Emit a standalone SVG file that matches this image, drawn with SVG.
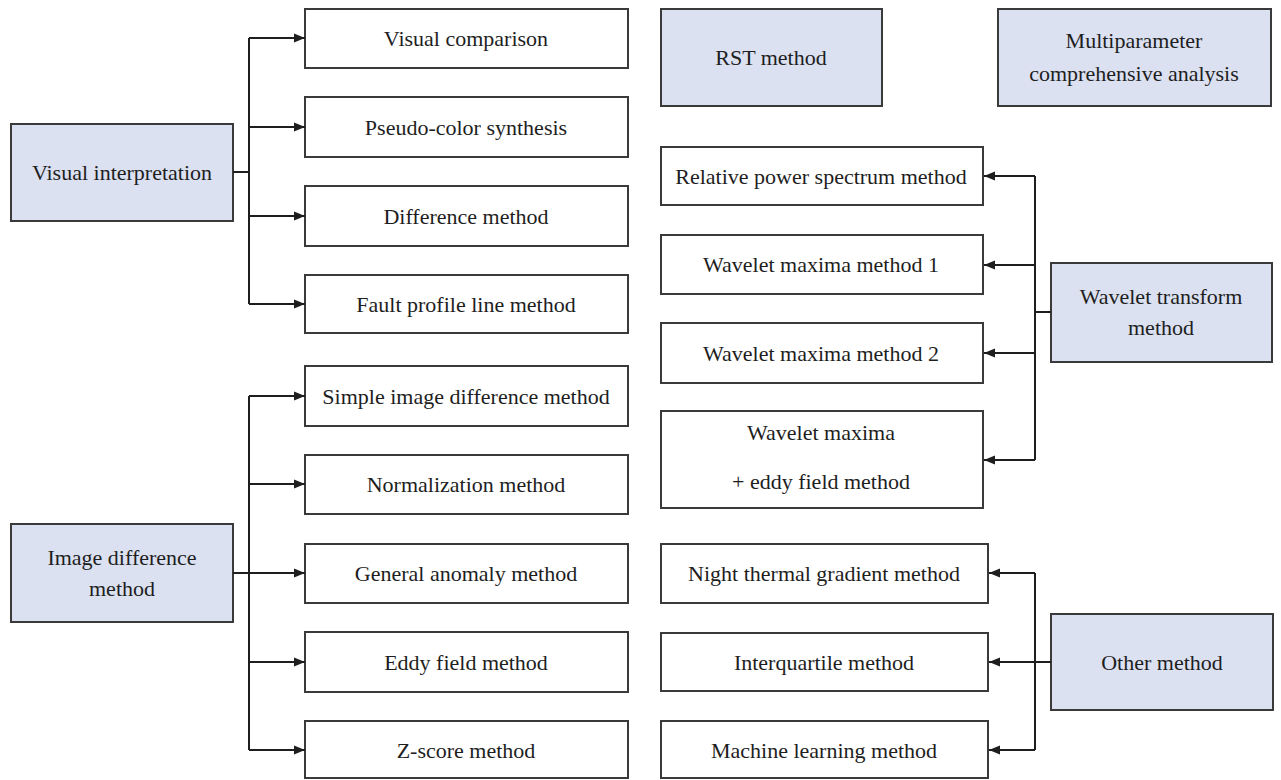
<svg xmlns="http://www.w3.org/2000/svg" width="1281" height="780" viewBox="0 0 1281 780">
<style>
.box{fill:#ffffff;stroke:#3a3a3a;stroke-width:2}
.blue{fill:#dbe1f1;stroke:#3a3a3a;stroke-width:2}
.t{font-family:"Liberation Serif","Times New Roman",serif;font-size:22px;fill:#1e1e1e;text-anchor:middle}
.ln{fill:none;stroke:#1e1e1e;stroke-width:2}
.ar{fill:none;stroke:#1e1e1e;stroke-width:2;marker-end:url(#ah)}
</style>
<defs>
<marker id="ah" markerUnits="userSpaceOnUse" markerWidth="12" markerHeight="10" refX="11" refY="5" orient="auto">
<path d="M0,0.5 L11,5 L0,9.5 z" fill="#1e1e1e"/>
</marker>
</defs>
<rect width="1281" height="780" fill="#ffffff"/>

<g id="n-visual-interpretation"><rect class="blue" x="11" y="124" width="222" height="97"/><text class="t" x="122" y="180">Visual interpretation</text></g>
<g id="n-visual-comparison"><rect class="box" x="305" y="9" width="323" height="59"/><text class="t" x="466" y="46">Visual comparison</text></g>
<g id="n-pseudo-color"><rect class="box" x="305" y="97" width="323" height="60"/><text class="t" x="466" y="135">Pseudo-color synthesis</text></g>
<g id="n-difference"><rect class="box" x="305" y="186" width="323" height="60"/><text class="t" x="466" y="224">Difference method</text></g>
<g id="n-fault-profile"><rect class="box" x="305" y="275" width="323" height="58"/><text class="t" x="466" y="312">Fault profile line method</text></g>

<g id="n-image-difference"><rect class="blue" x="11" y="524" width="222" height="98"/><text class="t" x="122" y="565">Image difference</text><text class="t" x="122" y="596">method</text></g>
<g id="n-simple-image"><rect class="box" x="305" y="366" width="323" height="60"/><text class="t" x="466" y="404">Simple image difference method</text></g>
<g id="n-normalization"><rect class="box" x="305" y="455" width="323" height="59"/><text class="t" x="466" y="492">Normalization method</text></g>
<g id="n-general-anomaly"><rect class="box" x="305" y="544" width="323" height="59"/><text class="t" x="466" y="581">General anomaly method</text></g>
<g id="n-eddy-field"><rect class="box" x="305" y="632" width="323" height="60"/><text class="t" x="466" y="670">Eddy field method</text></g>
<g id="n-z-score"><rect class="box" x="305" y="721" width="323" height="57"/><text class="t" x="466" y="758">Z-score method</text></g>

<g id="n-rst"><rect class="blue" x="661" y="9" width="221" height="97"/><text class="t" x="771" y="65">RST method</text></g>
<g id="n-multiparameter"><rect class="blue" x="998" y="9" width="273" height="97"/><text class="t" x="1134" y="48">Multiparameter</text><text class="t" x="1134" y="81">comprehensive analysis</text></g>

<g id="n-relative-power"><rect class="box" x="661" y="147" width="322" height="58"/><text class="t" x="821" y="184">Relative power spectrum method</text></g>
<g id="n-wavelet-1"><rect class="box" x="661" y="235" width="322" height="59"/><text class="t" x="821" y="272">Wavelet maxima method 1</text></g>
<g id="n-wavelet-2"><rect class="box" x="661" y="323" width="322" height="60"/><text class="t" x="821" y="361">Wavelet maxima method 2</text></g>
<g id="n-wavelet-eddy"><rect class="box" x="661" y="411" width="322" height="97"/><text class="t" x="821" y="440">Wavelet maxima</text><text class="t" x="821" y="489">+ eddy field method</text></g>
<g id="n-wavelet-transform"><rect class="blue" x="1051" y="263" width="221" height="99"/><text class="t" x="1161" y="304">Wavelet transform</text><text class="t" x="1161" y="335">method</text></g>

<g id="n-night-thermal"><rect class="box" x="661" y="544" width="327" height="59"/><text class="t" x="824" y="581">Night thermal gradient method</text></g>
<g id="n-interquartile"><rect class="box" x="661" y="633" width="327" height="58"/><text class="t" x="824" y="670">Interquartile method</text></g>
<g id="n-machine-learning"><rect class="box" x="661" y="721" width="327" height="57"/><text class="t" x="824" y="758">Machine learning method</text></g>
<g id="n-other"><rect class="blue" x="1051" y="614" width="222" height="96"/><text class="t" x="1162" y="670">Other method</text></g>

<g id="connectors">
<path class="ln" d="M233,172 H249 M249,38 V304"/>
<path class="ar" d="M249,38 H305"/>
<path class="ar" d="M249,127 H305"/>
<path class="ar" d="M249,216 H305"/>
<path class="ar" d="M249,304 H305"/>

<path class="ln" d="M233,573 H249 M249,396 V750"/>
<path class="ar" d="M249,396 H305"/>
<path class="ar" d="M249,484 H305"/>
<path class="ar" d="M249,573 H305"/>
<path class="ar" d="M249,662 H305"/>
<path class="ar" d="M249,750 H305"/>

<path class="ln" d="M1051,312 H1035 M1035,176 V460"/>
<path class="ar" d="M1035,176 H984"/>
<path class="ar" d="M1035,265 H984"/>
<path class="ar" d="M1035,353 H984"/>
<path class="ar" d="M1035,460 H984"/>

<path class="ln" d="M1035,573 V750"/>
<path class="ar" d="M1035,573 H989"/>
<path class="ar" d="M1051,662 H989"/>
<path class="ar" d="M1035,750 H989"/>
</g>
</svg>
